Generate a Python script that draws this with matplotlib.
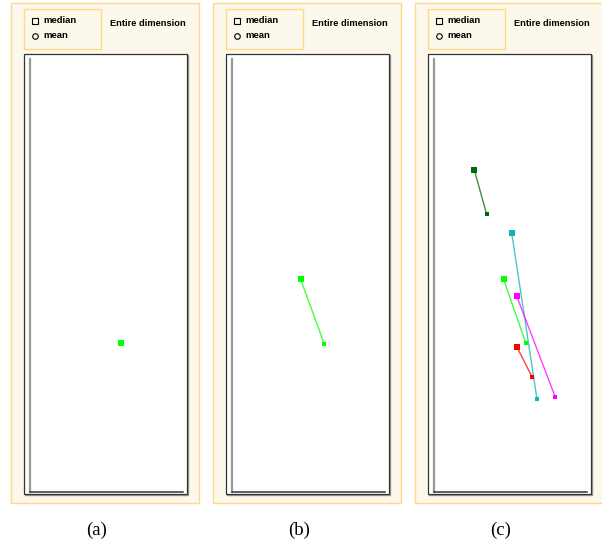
import matplotlib
matplotlib.use('Agg')
import matplotlib.pyplot as plt
from matplotlib.patches import Rectangle

# values (axis units 0..100)
panel_labels = ['(a)', '(b)', '(c)']

a_colors = ['#00ff00']
a_median_x = [59.7]
a_median_y = [34.3]
a_mean_x = []
a_mean_y = []

b_colors = ['#00ff00']
b_median_x = [44.9]
b_median_y = [49.1]
b_mean_x = [60.3]
b_mean_y = [34.2]

c_colors = ['#006a00', '#10b4b4', '#00ff00', '#ff00ff', '#ff0000']
c_median_x = [26.3, 50.8, 45.5, 54.0, 54.0]
c_median_y = [74.4, 59.8, 49.1, 45.3, 33.6]
c_mean_x = [34.4, 67.3, 60.1, 79.3, 64.1]
c_mean_y = [64.2, 21.5, 34.3, 21.9, 26.6]

panels = [
    (a_colors, a_median_x, a_median_y, a_mean_x, a_mean_y),
    (b_colors, b_median_x, b_median_y, b_mean_x, b_mean_y),
    (c_colors, c_median_x, c_median_y, c_mean_x, c_mean_y),
]

W, H = 602, 545
fig = plt.figure(figsize=(W / 100, H / 100), dpi=100)
fig.patch.set_facecolor('white')

# background axes in pixel coords for the frames
bg = fig.add_axes([0, 0, 1, 1])
bg.set_xlim(0, W)
bg.set_ylim(H, 0)
bg.axis('off')

sans = 'Liberation Sans'
step = 202

for i, lab in enumerate(panel_labels):
    dx = step * i
    # outer beige box
    bg.add_patch(Rectangle((11 + dx, 3), 188, 500, facecolor='#fdf8ec',
                           edgecolor='#ffd98a', lw=1.0))
    # legend box
    bg.add_patch(Rectangle((24 + dx, 9), 77, 40, facecolor='#fdf8ec',
                           edgecolor='#ffd98a', lw=1.0))
    bg.plot([35 + dx], [21], marker='s', ms=4, mfc='none', mec='black', mew=0.8)
    bg.plot([35 + dx], [36], marker='o', ms=4, mfc='none', mec='black', mew=0.8)
    bg.text(43 + dx, 20.5, 'median', fontsize=6.8, fontweight='bold', family=sans,
            va='center', ha='left')
    bg.text(43 + dx, 35.5, 'mean', fontsize=6.8, fontweight='bold', family=sans,
            va='center', ha='left')
    bg.text(110 + dx, 24, 'Entire dimension', fontsize=6.7, fontweight='bold',
            family=sans, va='center', ha='left')
    # inner white box with shadow
    bg.add_patch(Rectangle((25 + dx, 55), 163, 440, facecolor='none',
                           edgecolor='#999999', lw=1.0))
    bg.add_patch(Rectangle((24 + dx, 54), 163, 440, facecolor='white',
                           edgecolor='#333333', lw=0.9))
    bg.text(97 + dx, 530, lab, fontsize=13.5, family='Liberation Serif',
            ha='center', va='center')

for i, (cols, mx, my, nx, ny) in enumerate(panels):
    left = 30 + step * i
    ax = fig.add_axes([left / W, (H - 492) / H, 153 / W, 433 / H])
    ax.patch.set_alpha(0)
    ax.set_xlim(0, 100)
    ax.set_ylim(0, 100)
    ax.set_xticks([])
    ax.set_yticks([])
    ax.spines['top'].set_visible(False)
    ax.spines['right'].set_visible(False)
    ax.spines['left'].set_color('#999999')
    ax.spines['left'].set_linewidth(1.6)
    ax.spines['bottom'].set_color('#333333')
    ax.spines['bottom'].set_linewidth(1.1)
    for k, c in enumerate(cols):
        if k < len(nx):
            ax.plot([mx[k], nx[k]], [my[k], ny[k]], color=c, lw=1.0, alpha=0.75)
            ax.plot(nx[k], ny[k], marker='s', ms=2.2, color=c, mew=0)
        ax.plot(mx[k], my[k], marker='s', ms=4.5, color=c, mew=0)

fig.savefig('out.png', dpi=100)
